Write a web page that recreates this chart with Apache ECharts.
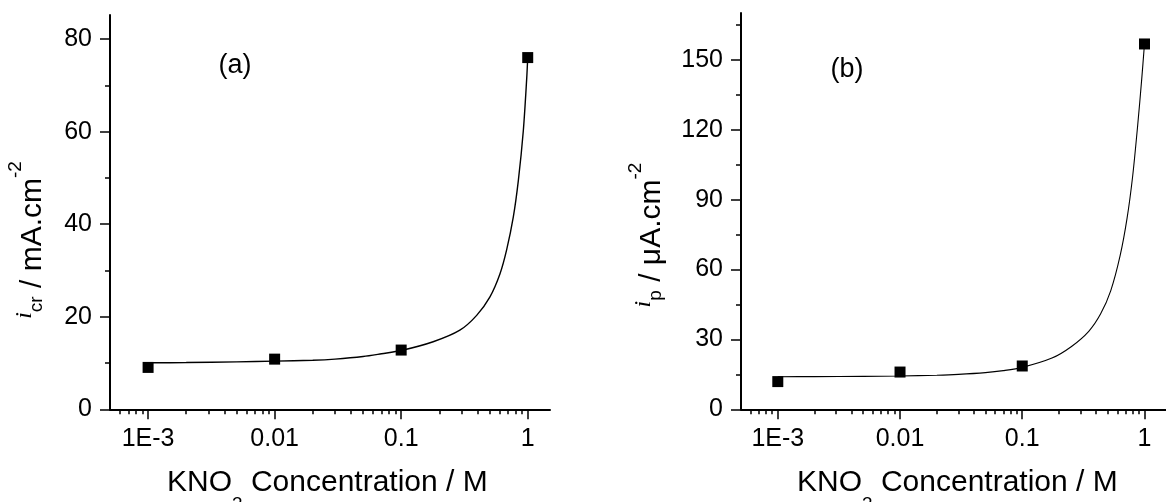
<!DOCTYPE html>
<html><head><meta charset="utf-8">
<script src="https://cdn.jsdelivr.net/npm/echarts@6/dist/echarts.min.js"></script>
<style>html,body{margin:0;padding:0;background:#fff}#c{width:1166px;height:502px}</style>
</head><body><div id="c"></div>
<script>
// ---- data ----
const concentrations = [0.001, 0.01, 0.1, 1];
const icrValues = [9.05, 10.84, 12.8, 76.0];
const ipValues = [11.9, 16.0, 18.6, 156.9];

const fitAConc   = [0.001, 0.002, 0.005, 0.01, 0.02, 0.03, 0.05, 0.07, 0.1, 0.179, 0.291, 0.395, 0.503, 0.604, 0.682, 0.769, 0.843, 0.923, 0.982, 1];
const fitAValues = [10.05, 10.1, 10.25, 10.4, 10.6, 10.85, 11.4, 12.0, 12.7, 14.6, 17.1, 20.3, 24.3, 29.3, 34.5, 41.5, 49.4, 60.2, 71.5, 76.0];

const fitBConc   = [0.001, 0.002, 0.005, 0.01, 0.02, 0.03, 0.05, 0.07, 0.1, 0.175, 0.253, 0.35, 0.438, 0.53, 0.632, 0.72, 0.8, 0.88, 0.95, 1];
const fitBValues = [14.0, 14.03, 14.13, 14.3, 14.65, 15.0, 15.75, 16.6, 18.0, 22.0, 27.0, 33.5, 41.0, 51.0, 66.0, 82.0, 100.0, 122.0, 142.0, 156.9];

const xTickValues = [0.001, 0.01, 0.1, 1];
const xTickLabels = ['1E-3', '0.01', '0.1', '1'];
const xMinorTicks = [0.0006, 0.0007, 0.0008, 0.0009,
  0.002, 0.003, 0.004, 0.005, 0.006, 0.007, 0.008, 0.009,
  0.02, 0.03, 0.04, 0.05, 0.06, 0.07, 0.08, 0.09,
  0.2, 0.3, 0.4, 0.5, 0.6, 0.7, 0.8, 0.9];
const yTicksA = [0, 20, 40, 60, 80];
const yMinorA = [10, 30, 50, 70];
const yTicksB = [0, 30, 60, 90, 120, 150];
const yMinorB = [15, 45, 75, 105, 135, 165];

// ---- chart ----
const FONT = 'Liberation Sans, Arial, sans-serif';
const SERIF = 'Liberation Serif, Times New Roman, serif';
const chart = echarts.init(document.getElementById('c'), null, {renderer: 'canvas'});

function xLabel(v) {
  for (let i = 0; i < xTickValues.length; i++) {
    if (Math.abs(Math.log10(v) - Math.log10(xTickValues[i])) < 1e-6) return xTickLabels[i];
  }
  return '';
}
function zip(a, b) { return a.map((v, i) => [v, b[i]]); }

const axisLine = {show: true, onZero: false, lineStyle: {color: '#000', width: 2}};
function xMajor(grid) {
  return {type: 'log', logBase: 10, gridIndex: grid, min: 0.0005, max: 1.5, position: 'bottom',
    axisLine: axisLine, splitLine: {show: false},
    axisTick: {show: true, inside: false, length: 10, lineStyle: {color: '#000', width: 1.5}, customValues: xTickValues},
    axisLabel: {show: true, margin: 17, color: '#000', fontSize: 25, fontFamily: FONT, customValues: xTickValues, formatter: xLabel}};
}
function xMinorAxis(grid) {
  return {type: 'log', logBase: 10, gridIndex: grid, min: 0.0005, max: 1.5, position: 'bottom',
    axisLine: {show: false}, splitLine: {show: false}, axisLabel: {show: false},
    axisTick: {show: true, inside: false, length: 5, lineStyle: {color: '#000', width: 1.5}, customValues: xMinorTicks}};
}
function yMajor(grid, max, ticks) {
  return {type: 'value', gridIndex: grid, min: 0, max: max, position: 'left',
    axisLine: axisLine, splitLine: {show: false},
    axisTick: {show: true, inside: false, length: 10, lineStyle: {color: '#000', width: 1.5}, customValues: ticks},
    axisLabel: {show: true, margin: 18, color: '#000', fontSize: 25, fontFamily: FONT, customValues: ticks}};
}
function yMinorAxis(grid, max, ticks) {
  return {type: 'value', gridIndex: grid, min: 0, max: max, position: 'left',
    axisLine: {show: false}, splitLine: {show: false}, axisLabel: {show: false},
    axisTick: {show: true, inside: false, length: 5, lineStyle: {color: '#000', width: 1.5}, customValues: ticks}};
}

// rich-text tokens: every token has the same line box; its vertical offset comes from padding-top
const H = 64;
function tok(fs, off, family, italic) {
  return {fontSize: fs, fontFamily: family || FONT, fontStyle: italic ? 'italic' : 'normal',
    lineHeight: H, padding: [H / 2 + off - fs / 2, 0, 0, 0], verticalAlign: 'top', fill: '#000'};
}
const richX = {m: tok(30, 0), sub: tok(19, 22)};
const richY = {m: tok(30, 0), i: tok(24, -8, SERIF, true), sub: tok(19, 4), sup: tok(19, -16.5)};

chart.setOption({
  animation: false,
  backgroundColor: '#fff',
  grid: [
    {left: 110, top: 15, width: 440, height: 394.3},
    {left: 741, top: 13, width: 436, height: 396.3}
  ],
  xAxis: [xMajor(0), xMinorAxis(0), xMajor(1), xMinorAxis(1)],
  yAxis: [yMajor(0, 85.2, yTicksA), yMinorAxis(0, 85.2, yMinorA), yMajor(1, 170.2, yTicksB), yMinorAxis(1, 170.2, yMinorB)],
  series: [
    {type: 'line', xAxisIndex: 0, yAxisIndex: 0, data: zip(fitAConc, fitAValues), showSymbol: false,
     smooth: 0.3, lineStyle: {color: '#000', width: 1.4}, silent: true},
    {type: 'scatter', xAxisIndex: 0, yAxisIndex: 0, data: zip(concentrations, icrValues),
     symbol: 'rect', symbolSize: 11, itemStyle: {color: '#000', opacity: 1}},
    {type: 'line', xAxisIndex: 2, yAxisIndex: 2, data: zip(fitBConc, fitBValues), showSymbol: false,
     smooth: 0.3, lineStyle: {color: '#000', width: 1.1}, silent: true},
    {type: 'scatter', xAxisIndex: 2, yAxisIndex: 2, data: zip(concentrations, ipValues),
     symbol: 'rect', symbolSize: 11, itemStyle: {color: '#000', opacity: 1}}
  ],
  graphic: [
    {type: 'text', x: 235, y: 66, style: {text: '(a)', fontSize: 27, fontFamily: FONT, fill: '#000', align: 'center', verticalAlign: 'middle'}},
    {type: 'text', x: 847, y: 70, style: {text: '(b)', fontSize: 27, fontFamily: FONT, fill: '#000', align: 'center', verticalAlign: 'middle'}},
    {type: 'text', x: 167, y: 483, style: {text: '{m|KNO}{sub|3}{m| Concentration / M}', rich: richX, align: 'left', verticalAlign: 'middle'}},
    {type: 'text', x: 797, y: 483, style: {text: '{m|KNO}{sub|3}{m| Concentration / M}', rich: richX, align: 'left', verticalAlign: 'middle'}},
    {type: 'text', x: 32.5, y: 240, rotation: Math.PI / 2, style: {text: '{i|i}{sub|cr}{m| / mA.cm}{sup|-2}', rich: richY, align: 'center', verticalAlign: 'middle'}},
    {type: 'text', x: 652, y: 235, rotation: Math.PI / 2, style: {text: '{i|i}{sub|p}{m| / μA.cm}{sup|-2}', rich: richY, align: 'center', verticalAlign: 'middle'}}
  ]
});
</script></body></html>
